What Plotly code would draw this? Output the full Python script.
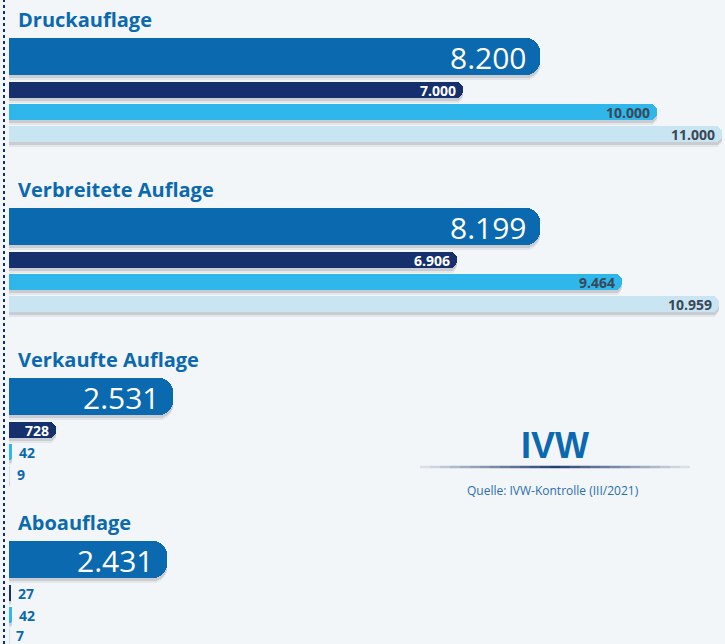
import plotly.graph_objects as go

# ---- data ----
categories = ["Druckauflage", "Verbreitete Auflage", "Verkaufte Auflage", "Aboauflage"]
series_main = [8200, 8199, 2531, 2431]
series_b = [7000, 6906, 728, 27]
series_c = [10000, 9464, 42, 42]
series_d = [11000, 10959, 9, 7]

source_text = "Quelle: IVW-Kontrolle (III/2021)"
logo_text = "IVW"

# ---- layout constants (pixel-based y axis) ----
W, H = 725, 644
group_center = [56, 226, 396, 559]
offsets = [0, 34, 56, 78]
widths = [37, 16, 16, 16]
title_offset = -37
x_left_px = 9
px_per_unit = 0.0648
xr = [-x_left_px / px_per_unit, (W - x_left_px) / px_per_unit]

BLUE = "#0b69b0"
NAVY = "#16306d"
CYAN = "#2fb6ea"
LIGHT = "#c9e5f2"

def fmt(v):
    return f"{v:,}".replace(",", ".")

series = [series_main, series_b, series_c, series_d]
colors = [BLUE, NAVY, CYAN, LIGHT]
radii = [14, 7, 7, 7]

fig = go.Figure()

# soft shadows (two layers for a blur-like effect)
for k, vals in enumerate(series):
    for dy, alpha in ((5, 0.08), (3, 0.14)):
        ys = [c + offsets[k] + dy for c in group_center]
        fig.add_trace(go.Bar(
            x=vals, y=ys, orientation="h", width=widths[k],
            marker=dict(color=f"rgba(40,50,60,{alpha})", cornerradius=radii[k], line=dict(width=0)),
            hoverinfo="skip", showlegend=False,
        ))

for k, vals in enumerate(series):
    ys = [c + offsets[k] for c in group_center]
    fig.add_trace(go.Bar(
        x=vals, y=ys, orientation="h", width=widths[k],
        marker=dict(color=colors[k], cornerradius=radii[k], line=dict(width=0)),
        showlegend=False,
    ))

annotations = []
# value labels
for k, vals in enumerate(series):
    for g, v in enumerate(vals):
        y = group_center[g] + offsets[k]
        width_px = v * px_per_unit
        if k == 0:
            annotations.append(dict(x=v, y=y, text=fmt(v), showarrow=False, xanchor="right",
                                    xshift=-11, yshift=-1,
                                    font=dict(family="Open Sans", size=30, color="white")))
        else:
            inside = width_px > 40
            if inside:
                col = "white" if k == 1 else "#3b4856"
                annotations.append(dict(x=v, y=y, text=f"<b>{fmt(v)}</b>", showarrow=False,
                                        xanchor="right", xshift=-5,
                                        font=dict(family="Open Sans", size=14, color=col)))
            else:
                annotations.append(dict(x=v, y=y, text=f"<b>{fmt(v)}</b>", showarrow=False,
                                        xanchor="left", xshift=5, yshift=2 if k == 3 and g == 3 else 0,
                                        font=dict(family="Open Sans", size=14, color=BLUE)))

# group titles
for g, name in enumerate(categories):
    annotations.append(dict(x=0, y=group_center[g] + title_offset, text=f"<b>{name}</b>",
                            showarrow=False, xanchor="left", xshift=7,
                            font=dict(family="Open Sans", size=20, color=BLUE)))

# logo & source
annotations.append(dict(xref="paper", yref="paper", x=555 / W, y=1 - 445 / H, text=f"<b>{logo_text}</b>",
                        showarrow=False, xanchor="center", yanchor="middle",
                        font=dict(family="Liberation Sans", size=36, color=BLUE)))
annotations.append(dict(xref="paper", yref="paper", x=553 / W, y=1 - 490 / H, text=source_text,
                        showarrow=False, xanchor="center", yanchor="middle",
                        font=dict(family="Open Sans", size=12, color="#2a6fae")))

shapes = [
    dict(type="line", xref="paper", yref="paper", x0=4 / W, x1=4 / W, y0=0, y1=1,
         line=dict(color=NAVY, width=2, dash="dot")),
]
# fading line under logo (symmetric fade from centre)
x_start, x_end, n = 420, 690, 27
mid = (x_start + x_end) / 2
step = (x_end - x_start) / n
for i in range(n):
    a = x_start + i * step
    b = a + step
    t = 1 - abs((a + b) / 2 - mid) / (mid - x_start)
    shapes.append(dict(type="line", xref="paper", yref="paper", x0=a / W, x1=b / W,
                       y0=1 - 467 / H, y1=1 - 467 / H,
                       line=dict(color=f"rgba(20,50,100,{0.08 + 0.85 * t:.2f})", width=2.5)))

fig.update_layout(
    width=W, height=H,
    margin=dict(l=0, r=0, t=0, b=0),
    paper_bgcolor="#f3f6f9", plot_bgcolor="#f3f6f9",
    barmode="overlay", bargap=0,
    xaxis=dict(range=xr, visible=False, fixedrange=True),
    yaxis=dict(range=[H, 0], visible=False, fixedrange=True),
    annotations=annotations, shapes=shapes,
)

fig.write_html("out.html", config={"displayModeBar": False},
               post_script="document.body.style.margin='0';document.body.style.overflow='hidden';")
